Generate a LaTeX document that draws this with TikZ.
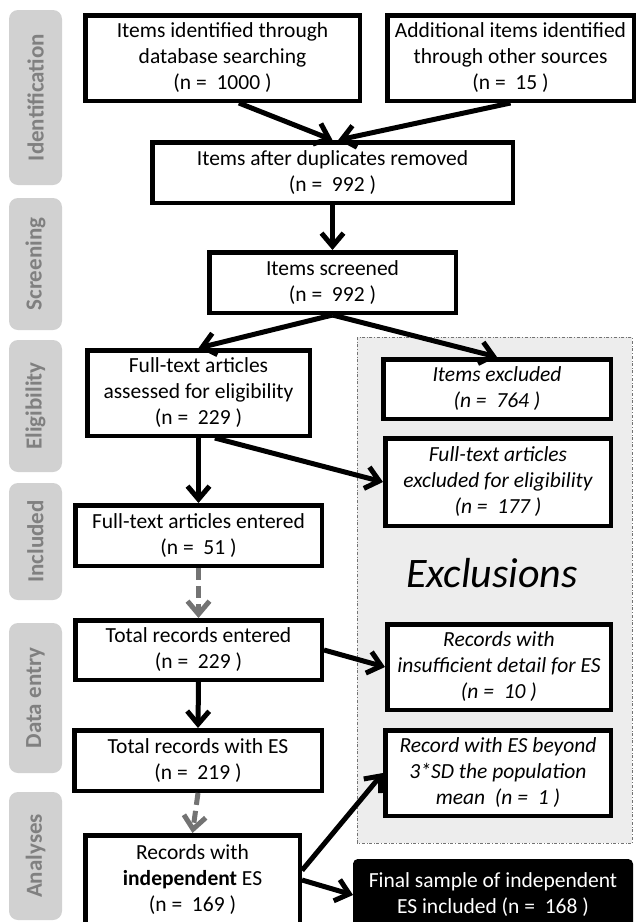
\documentclass[tikz,border=0pt]{standalone}
\usepackage{fontspec}
\setmainfont{Carlito}
\usetikzlibrary{arrows.meta, positioning}

\begin{document}
\begin{tikzpicture}[
                    x=1pt, y=-1pt,
                    box/.style={draw, line width=4.5pt, fill=white, align=center, inner sep=2pt, font=\fontsize{21.5}{26}\selectfont},
                    exbox/.style={box, font=\fontsize{21.5}{26}\selectfont\itshape},
                    final/.style={box, draw=black, fill=black, text=white, rounded corners=3pt},
                    phase/.style={fill=black!18, rounded corners=9pt, rotate=90, minimum height=53pt, font=\fontsize{23}{26}\selectfont\bfseries, text=black!50},
                    flow/.style={line width=5pt, -{Straight Barb[length=13pt,width=22pt]}},
                    dflow/.style={flow, black!55, dash pattern=on 12pt off 6pt}
                ]
                \useasboundingbox (0,0) rectangle (639,922);
                % exclusions area
                \draw[black!55, thin, dash dot, fill=black!7] (357,337) rectangle (632,843);
                \node[font=\fontsize{42}{48}\selectfont\itshape] (excl) at (492,573) {Exclusions};

                \foreach \y/\len/\txt/\nm in {97.5/175/Identification/idf, 264/132/Screening/scrn, 406/132/Eligibility/elig,
                        541.5/117/Included/incl, 698/150/Data entry/dent, 856/128/Analyses/anly}{
                        \node[phase, minimum width=\len pt] (\nm) at (35.5,\y) {\txt};
                    }

                \node[box, minimum width=274.5pt, minimum height=85.5pt] (dbs) at (222.5,58) {Items identified through\\database searching\\(n = ~1000 )};
                \node[box, minimum width=246.5pt, minimum height=85.5pt] (oth) at (510.5,58) {Additional items identified\\through other sources\\(n = ~15 )};
                \node[box, minimum width=360.5pt, minimum height=60.5pt] (dup) at (332.5,172.5) {Items after duplicates removed\\(n = ~992 )};
                \node[box, minimum width=246.5pt, minimum height=60.5pt] (scr) at (332.5,282.5) {Items screened\\(n = ~992 )};
                \node[box, minimum width=222.5pt, minimum height=85.5pt] (ful) at (198.5,393) {Full-text articles\\assessed for eligibility\\(n = ~229 )};
                \node[exbox, minimum width=227.5pt, minimum height=59.5pt] (exi) at (497,389) {Items excluded\\(n = ~764 )};
                \node[exbox, minimum width=225.5pt, minimum height=87.5pt] (exf) at (498,482) {Full-text articles\\excluded for eligibility\\(n = ~177 )};
                \node[box, minimum width=246.5pt, minimum height=60.5pt] (ent) at (198.5,535.5) {Full-text articles entered\\(n = ~51 )};
                \node[box, minimum width=246.5pt, minimum height=59.5pt] (rec) at (198.5,650) {Total records entered\\(n = ~229 )};
                \node[exbox, minimum width=223.5pt, minimum height=85.5pt] (exd) at (499,667) {Records with\\insufficient detail for ES\\(n = ~10 )};
                \node[box, minimum width=247.5pt, minimum height=60.5pt] (res) at (198,760.5) {Total records with ES\\(n = ~219 )};
                \node[exbox, minimum width=225.5pt, minimum height=85.5pt] (exo) at (498,773) {Record with ES beyond\\3*SD the population\\mean~ (n = ~1 )};
                \node[box, minimum width=214.5pt, minimum height=89.5pt] (ind) at (192.5,880) {Records with\\\textbf{independent} ES\\(n = ~169 )};
                \node[final, minimum width=275.5pt, minimum height=67.5pt] (fin) at (493,895) {Final sample of independent\\ES included (n = ~168 )};

                \draw[flow] (dbs.290) -- (dup.north);
                \draw[flow] (oth.south) -- (dup.80);
                \draw[flow] (dup.south) -- (scr.north);
                \draw[flow] (scr.south) -- (ful.north);
                \draw[flow] (scr.south) -- (exi.north);
                \draw[flow] (ful.south) -- (ent.north);
                \draw[flow] (ful.290) -- (exf.west);
                \draw[dflow] (ent.south) -- (rec.north);
                \draw[flow] (rec.east) -- (exd.west);
                \draw[flow] (rec.south) -- (res.north);
                \draw[dflow] (res.south) -- (ind.north);
                \draw[flow] (ind.5) -- (exo.west);
                \draw[flow] (ind.east) -- (fin.west);
            \end{tikzpicture}
\end{document}
